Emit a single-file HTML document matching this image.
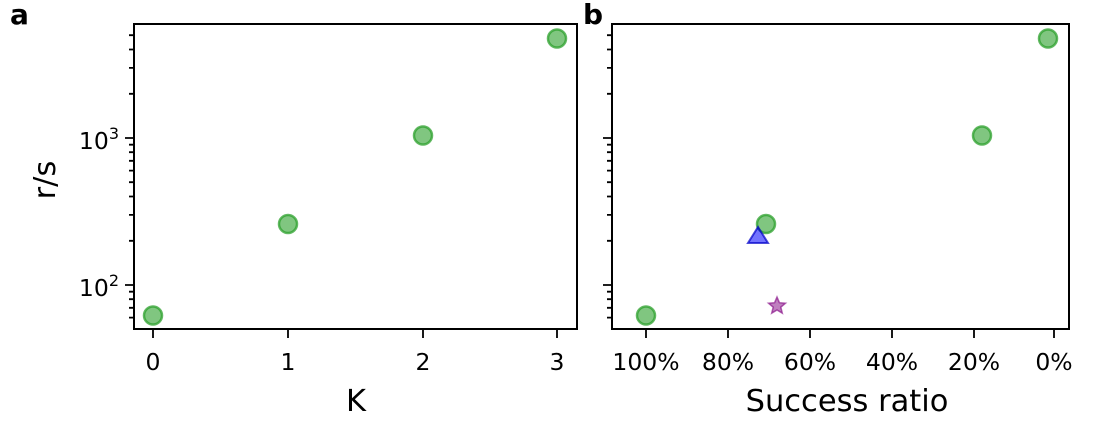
<!DOCTYPE html>
<html><head><meta charset="utf-8"><style>
html,body{margin:0;padding:0;background:#fff;}
svg{display:block;font-family:"DejaVu Sans","Liberation Sans",sans-serif;}
</style></head><body>
<svg width="1100" height="440" viewBox="0 0 1100 440" xmlns="http://www.w3.org/2000/svg">
<g stroke="#000" stroke-width="1.8">
<path d="M134 285h-9M134 138h-9"/>
<path d="M134 317.6h-5M134 307.8h-5M134 299.2h-5M134 291.7h-5M134 240.8h-5M134 214.9h-5M134 196.5h-5M134 182.2h-5M134 170.6h-5M134 160.8h-5M134 152.2h-5M134 144.7h-5M134 93.8h-5M134 67.9h-5M134 49.5h-5M134 35.2h-5"/>
<path d="M153 329v9M288 329v9M423 329v9M557 329v9"/>
<path d="M612 285h-9M612 138h-9"/>
<path d="M612 317.6h-5M612 307.8h-5M612 299.2h-5M612 291.7h-5M612 240.8h-5M612 214.9h-5M612 196.5h-5M612 182.2h-5M612 170.6h-5M612 160.8h-5M612 152.2h-5M612 144.7h-5M612 93.8h-5M612 67.9h-5M612 49.5h-5M612 35.2h-5"/>
<path d="M646 329v9M728 329v9M810 329v9M892 329v9M974 329v9M1054 329v9"/>
</g>
<g fill="rgba(44,160,44,0.6)" stroke="rgba(44,160,44,0.75)" stroke-width="2.5">
<circle cx="153" cy="315.5" r="9"/>
<circle cx="288" cy="224" r="9"/>
<circle cx="423" cy="135.5" r="9"/>
<circle cx="557" cy="38.5" r="9"/>
<circle cx="646" cy="315.5" r="9"/>
<circle cx="766" cy="224" r="9"/>
<circle cx="982" cy="135.5" r="9"/>
<circle cx="1048" cy="38.5" r="9"/>
</g>
<polygon points="758,227 748,243 768,243" fill="rgba(0,0,255,0.55)" stroke="rgba(0,0,200,0.7)" stroke-width="2"/>
<polygon points="777,297 779.4,302.7 785.5,303.2 780.8,307.2 782.3,313.2 777,310 771.7,313.2 773.2,307.2 768.5,303.2 774.6,302.7" fill="rgba(128,0,128,0.5)" stroke="rgba(128,0,128,0.6)" stroke-width="1.5"/>
<rect x="134" y="24" width="443" height="305" fill="none" stroke="#000" stroke-width="2"/>
<rect x="612" y="24" width="457" height="305" fill="none" stroke="#000" stroke-width="2"/>
<g font-size="23.5" text-anchor="middle" fill="#000">
<text x="153" y="370">0</text><text x="288" y="370">1</text><text x="423" y="370">2</text><text x="557" y="370">3</text>
<text x="646" y="370">100%</text><text x="728" y="370">80%</text><text x="810" y="370">60%</text><text x="892" y="370">40%</text><text x="974" y="370">20%</text><text x="1054" y="370">0%</text>
</g>
<g font-size="23.5" fill="#000" text-anchor="end">
<text x="119" y="296">10<tspan font-size="16" dy="-10">2</tspan></text>
<text x="119" y="149">10<tspan font-size="16" dy="-10">3</tspan></text>
</g>
<text x="356" y="411" font-size="30.5" text-anchor="middle">K</text>
<text x="847" y="411" font-size="30.5" text-anchor="middle">Success ratio</text>
<text transform="translate(55,180) rotate(-90)" font-size="30.5" text-anchor="middle">r/s</text>
<text x="10" y="24" font-size="28" font-weight="bold">a</text>
<text x="583" y="24" font-size="28" font-weight="bold">b</text>
</svg>
</body></html>
